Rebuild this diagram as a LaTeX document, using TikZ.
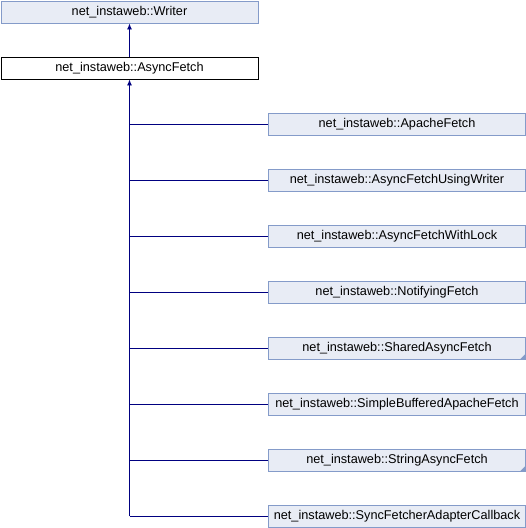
\documentclass[tikz,border=0pt]{standalone}
\usepackage{fontspec}
\setmainfont{Liberation Sans}
\definecolor{boxfill}{RGB}{232,236,245}
\definecolor{boxline}{RGB}{132,155,201}
\definecolor{edge}{RGB}{0,0,128}
\definecolor{corner}{RGB}{132,155,201}
\tikzset{
  cls/.style={draw=boxline, fill=boxfill, line width=0.9pt, minimum width=257pt, minimum height=22pt, inner sep=0pt, font=\fontsize{12.7pt}{14pt}\selectfont, text=black},
  cur/.style={cls, draw=black, fill=white},
  edg/.style={draw=edge, line width=0.9pt},
  tip/.style={-{Latex[length=6pt,width=5pt]}}
}
\usetikzlibrary{arrows.meta}
\begin{document}
\begin{tikzpicture}[x=1pt,y=-1pt]
\useasboundingbox (0,0) rectangle (526,528);
\node[cls] (writer) at (129.5,12) {net\_instaweb::Writer};
\node[cur] (af) at (129.5,68) {net\_instaweb::AsyncFetch};
\node[cls] (c1) at (397,124) {net\_instaweb::ApacheFetch};
\node[cls] (c2) at (397,180) {net\_instaweb::AsyncFetchUsingWriter};
\node[cls] (c3) at (397,236) {net\_instaweb::AsyncFetchWithLock};
\node[cls] (c4) at (397,292) {net\_instaweb::NotifyingFetch};
\node[cls] (c5) at (397,348) {net\_instaweb::SharedAsyncFetch};
\node[cls] (c6) at (397,404) {net\_instaweb::SimpleBufferedApacheFetch};
\node[cls] (c7) at (397,460) {net\_instaweb::StringAsyncFetch};
\node[cls] (c8) at (397,516) {net\_instaweb::SyncFetcherAdapterCallback};
\fill[corner] (c5.south east) -- ++(0,-6) -- ++(-6,6) -- cycle;
\fill[corner] (c7.south east) -- ++(0,-6) -- ++(-6,6) -- cycle;
\draw[edg,tip] (af.north) -- (writer.south);
\coordinate (tr) at (af.south);
\draw[edg,tip] (tr |- c8.west) -- (af.south);
\foreach \c in {c1,c2,c3,c4,c5,c6,c7,c8}{
  \draw[edg] (tr |- \c.west) -- (\c.west);
}
\end{tikzpicture}
\end{document}
